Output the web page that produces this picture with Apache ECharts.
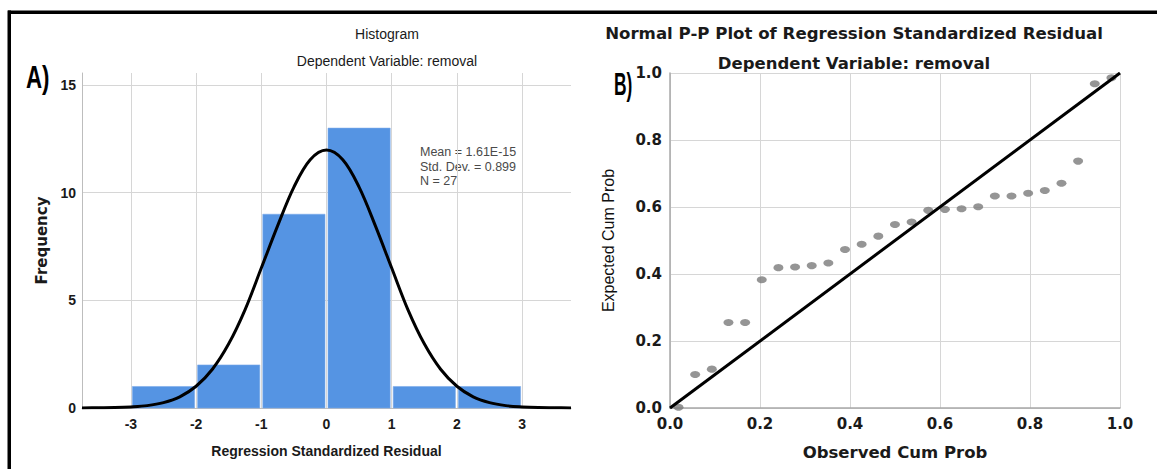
<!DOCTYPE html>
<html>
<head>
<meta charset="utf-8">
<script src="https://cdn.jsdelivr.net/npm/echarts@6/dist/echarts.min.js"></script>
<style>
html,body{margin:0;padding:0;background:#fff;}
#chart{width:1157px;height:469px;}
</style>
</head>
<body>
<div id="chart"></div>
<script>
// ---- Histogram (A) ----
var binStarts = [-3, -2, -1, 0, 1, 2];
var binEnds   = [-2, -1, 0, 1, 2, 3];
var binCounts = [1, 2, 9, 13, 1, 1];
var histXTicks = [-3, -2, -1, 0, 1, 2, 3];
var histYTicks = [0, 5, 10, 15];
// normal curve
var curveX = [-3.75,-3.5,-3.25,-3,-2.75,-2.5,-2.25,-2,-1.75,-1.5,-1.25,-1,-0.75,-0.5,-0.25,0,
              0.25,0.5,0.75,1,1.25,1.5,1.75,2,2.25,2.5,2.75,3,3.25,3.5,3.75];
var curveY = [0.00,0.01,0.02,0.05,0.11,0.25,0.52,1.01,1.80,2.98,4.56,6.50,8.46,10.26,11.53,11.98,
              11.53,10.26,8.46,6.50,4.56,2.98,1.80,1.01,0.52,0.25,0.11,0.05,0.02,0.01,0.00];
var statLines = ['Mean = 1.61E-15', 'Std. Dev. = 0.899', 'N = 27'];

// ---- P-P plot (B) ----
var observedCum = [0.019,0.056,0.093,0.130,0.167,0.204,0.241,0.278,0.315,0.352,0.389,0.426,0.463,0.500,
                   0.537,0.574,0.611,0.648,0.685,0.722,0.759,0.796,0.833,0.870,0.907,0.944,0.981];
var expectedCum = [0.002,0.100,0.116,0.255,0.255,0.383,0.419,0.421,0.425,0.433,0.473,0.489,0.513,0.548,
                   0.555,0.590,0.593,0.595,0.601,0.633,0.633,0.641,0.649,0.671,0.737,0.968,0.986];
var refLine = [[0, 0], [1, 1]];

var histData = binStarts.map(function (s, i) { return [s, binEnds[i], binCounts[i]]; });
var curveData = curveX.map(function (x, i) { return [x, curveY[i]]; });
var ppData = observedCum.map(function (x, i) { return [x, expectedCum[i]]; });

var chart = echarts.init(document.getElementById('chart'), null, {renderer: 'svg'});
var sans = "'Liberation Sans', Arial, sans-serif";
var wide = "'DejaVu Sans', Verdana, sans-serif";
var gridColor = '#d6d6d6';

chart.setOption({
  animation: false,
  backgroundColor: '#ffffff',
  grid: [
    {left: 82, right: 586, top: 73, bottom: 61},
    {left: 670, right: 37, top: 73, bottom: 61}
  ],
  xAxis: [
    {
      gridIndex: 0, type: 'value', min: -3.75, max: 3.75,
      name: 'Regression Standardized Residual', nameLocation: 'middle', nameGap: 36,
      nameTextStyle: {fontFamily: sans, fontSize: 14, fontWeight: 'bold', color: '#1a1a1a'},
      axisLine: {show: true, onZero: false, lineStyle: {color: '#bdbdbd', width: 1}},
      axisTick: {show: false, customValues: histXTicks},
      axisLabel: {customValues: histXTicks, margin: 9, fontFamily: sans, fontSize: 14, fontWeight: 'bold', color: '#1a1a1a'},
      splitLine: {show: true, lineStyle: {color: gridColor, width: 1}}
    },
    {
      gridIndex: 1, type: 'value', min: 0, max: 1, interval: 0.2,
      name: 'Observed Cum Prob', nameLocation: 'middle', nameGap: 36,
      nameTextStyle: {fontFamily: wide, fontSize: 16.5, fontWeight: 'bold', color: '#1a1a1a'},
      axisLine: {show: true, onZero: false, lineStyle: {color: '#a8a8a8', width: 1.5}},
      axisTick: {show: false},
      axisLabel: {margin: 8, fontFamily: wide, fontSize: 15, fontWeight: 'bold', color: '#1a1a1a',
                  formatter: function (v) { return v.toFixed(1); }},
      splitLine: {show: true, lineStyle: {color: gridColor, width: 1}}
    }
  ],
  yAxis: [
    {
      gridIndex: 0, type: 'value', min: 0, max: 15.56,
      name: 'Frequency', nameLocation: 'middle', nameGap: 33, nameRotate: 90,
      nameTextStyle: {fontFamily: wide, fontSize: 15, fontWeight: 'bold', color: '#1a1a1a'},
      axisLine: {show: true, onZero: false, lineStyle: {color: '#bdbdbd', width: 1}},
      axisTick: {show: false, customValues: histYTicks},
      axisLabel: {customValues: histYTicks, margin: 6, fontFamily: sans, fontSize: 14, fontWeight: 'bold', color: '#1a1a1a'},
      splitLine: {show: true, lineStyle: {color: gridColor, width: 1}}
    },
    {
      gridIndex: 1, type: 'value', min: 0, max: 1, interval: 0.2,
      name: 'Expected Cum Prob', nameLocation: 'middle', nameGap: 54, nameRotate: 90,
      nameTextStyle: {fontFamily: sans, fontSize: 16, color: '#111'},
      axisLine: {show: true, onZero: false, lineStyle: {color: '#a8a8a8', width: 1.5}},
      axisTick: {show: false},
      axisLabel: {margin: 8, fontFamily: wide, fontSize: 15, fontWeight: 'bold', color: '#1a1a1a',
                  formatter: function (v) { return v.toFixed(1); }},
      splitLine: {show: true, lineStyle: {color: gridColor, width: 1}}
    }
  ],
  series: [
    {
      type: 'custom', xAxisIndex: 0, yAxisIndex: 0,
      data: histData,
      encode: {x: [0, 1], y: 2},
      renderItem: function (params, api) {
        var p0 = api.coord([api.value(0), api.value(2)]);
        var p1 = api.coord([api.value(1), 0]);
        return {
          type: 'rect',
          shape: {x: p0[0] + 1.5, y: p0[1], width: p1[0] - p0[0] - 3, height: p1[1] - p0[1]},
          style: {fill: '#5594e3', stroke: '#7aaaea', lineWidth: 0.6}
        };
      },
      z: 2
    },
    {
      type: 'line', xAxisIndex: 0, yAxisIndex: 0,
      data: curveData, smooth: 0.35, showSymbol: false,
      lineStyle: {color: '#000', width: 3},
      z: 3
    },
    {
      type: 'scatter', xAxisIndex: 1, yAxisIndex: 1,
      data: ppData, symbol: 'circle', symbolSize: [10, 7],
      itemStyle: {color: '#7a7a7a'},
      z: 2
    },
    {
      type: 'line', xAxisIndex: 1, yAxisIndex: 1,
      data: refLine, showSymbol: false,
      lineStyle: {color: '#000', width: 3},
      z: 3
    }
  ],
  graphic: [
    {type: 'rect', shape: {x: 8, y: 10.5, width: 1149, height: 3.5}, style: {fill: '#000'}, z: 10},
    {type: 'rect', shape: {x: 7.5, y: 10.5, width: 3.5, height: 459}, style: {fill: '#000'}, z: 10},
    {type: 'text', x: 387, y: 34, style: {text: 'Histogram', font: "14px 'Liberation Sans', Arial, sans-serif", fill: '#1a1a1a', align: 'center', verticalAlign: 'middle'}},
    {type: 'text', x: 387, y: 61, style: {text: 'Dependent Variable: removal', font: "14px 'Liberation Sans', Arial, sans-serif", fill: '#1a1a1a', align: 'center', verticalAlign: 'middle'}},
    {type: 'text', x: 854, y: 33, style: {text: 'Normal P-P Plot of Regression Standardized Residual', font: "bold 16.6px 'DejaVu Sans', Verdana, sans-serif", fill: '#1a1a1a', align: 'center', verticalAlign: 'middle'}},
    {type: 'text', x: 854, y: 63, style: {text: 'Dependent Variable: removal', font: "bold 16.5px 'DejaVu Sans', Verdana, sans-serif", fill: '#1a1a1a', align: 'center', verticalAlign: 'middle'}},
    {type: 'text', x: 420, y: 152, style: {text: statLines[0], font: "12.5px 'Liberation Sans', Arial, sans-serif", fill: '#4a4a4a', align: 'left', verticalAlign: 'middle'}},
    {type: 'text', x: 420, y: 166.5, style: {text: statLines[1], font: "12.5px 'Liberation Sans', Arial, sans-serif", fill: '#4a4a4a', align: 'left', verticalAlign: 'middle'}},
    {type: 'text', x: 420, y: 181, style: {text: statLines[2], font: "12.5px 'Liberation Sans', Arial, sans-serif", fill: '#4a4a4a', align: 'left', verticalAlign: 'middle'}},
    {type: 'text', x: 26, y: 78, scaleX: 0.72, style: {text: 'A)', font: "bold 31px 'Liberation Sans', Arial, sans-serif", fill: '#000', align: 'left', verticalAlign: 'middle'}},
    {type: 'text', x: 614, y: 84, scaleX: 0.56, style: {text: 'B)', font: "bold 31px 'Liberation Sans', Arial, sans-serif", fill: '#000', align: 'left', verticalAlign: 'middle'}}
  ]
});
</script>
</body>
</html>
